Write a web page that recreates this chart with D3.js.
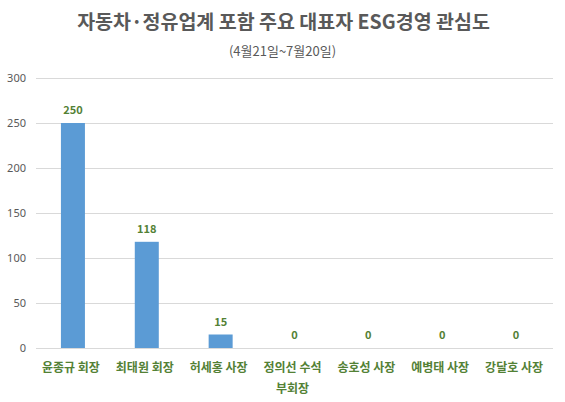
<!DOCTYPE html>
<html>
<head>
<meta charset="utf-8">
<script src="https://cdn.jsdelivr.net/npm/d3@7"></script>
<style>
  body { margin: 0; background: #fff; }
  text { font-family: "Noto Sans CJK KR", "Noto Sans", sans-serif; }
</style>
</head>
<body>
<svg id="bar_chart"></svg>
<script>
let names = ["윤종규 회장", "최태원 회장", "허세홍 사장", "정의선 수석 부회장", "송호성 사장", "예병태 사장", "강달호 사장"]
let labelLines = [["윤종규 회장"], ["최태원 회장"], ["허세홍 사장"], ["정의선 수석", "부회장"], ["송호성 사장"], ["예병태 사장"], ["강달호 사장"]]
let scores = [250, 118, 15, 0, 0, 0, 0]
let yTicks = [0, 50, 100, 150, 200, 250, 300]

let width = 565
let height = 402
let plot = {left: 36, right: 553, top: 78, bottom: 348}

let svg = d3.select("#bar_chart")
    .attr("width", width)
    .attr("height", height)

let xScale = d3.scaleBand()
    .domain(names)
    .range([plot.left, plot.right])
    .paddingInner(0.675)
    .paddingOuter(0.3375)

let yScale = d3.scaleLinear()
    .domain([0, 300])
    .range([plot.bottom, plot.top])

svg.append("text")
    .text("자동차·정유업계 포함 주요 대표자 ESG경영 관심도")
    .attr("x", width / 2 + 1)
    .attr("y", 29)
    .attr("text-anchor", "middle")
    .attr("font-size", 19.5)
    .attr("font-weight", "bold")
    .attr("fill", "#595959")

svg.append("text")
    .text("(4월21일~7월20일)")
    .attr("x", width / 2)
    .attr("y", 56)
    .attr("text-anchor", "middle")
    .attr("font-size", 13)
    .attr("fill", "#595959")

// grid lines
svg.append("g")
    .selectAll("line")
    .data(yTicks)
    .join("line")
    .attr("x1", plot.left)
    .attr("x2", plot.right)
    .attr("y1", d => yScale(d) + 0.5)
    .attr("y2", d => yScale(d) + 0.5)
    .attr("stroke", "#d9d9d9")
    .attr("stroke-width", 1)

let yAxis = svg.append("g")
    .attr("transform", "translate(" + 26 + ",0)")
    .call(d3.axisLeft(yScale).tickValues(yTicks).tickSize(0).tickPadding(0))
yAxis.select(".domain").remove()
yAxis.selectAll("text")
    .attr("font-size", 11)
    .attr("fill", "#595959")
    .style("font-family", "Noto Sans, sans-serif")

svg.append("g")
    .selectAll("rect")
    .data(scores)
    .join("rect")
    .attr("x", (d, i) => xScale(names[i]))
    .attr("y", d => yScale(d))
    .attr("width", xScale.bandwidth())
    .attr("height", d => plot.bottom - yScale(d))
    .attr("fill", "#5b9bd5")

svg.append("g")
    .selectAll("text")
    .data(scores)
    .join("text")
    .text(d => d)
    .attr("x", (d, i) => xScale(names[i]) + xScale.bandwidth() / 2)
    .attr("y", d => yScale(d) - 9)
    .attr("text-anchor", "middle")
    .attr("font-size", 11)
    .attr("font-weight", "bold")
    .attr("fill", "#538135")

let xLabels = svg.append("g")
    .selectAll("text")
    .data(labelLines)
    .join("text")
    .attr("x", (d, i) => xScale(names[i]) + xScale.bandwidth() / 2 - 2)
    .attr("y", 372)
    .attr("text-anchor", "middle")
    .attr("font-size", 12)
    .attr("font-weight", "bold")
    .attr("fill", "#538135")

xLabels.selectAll("tspan")
    .data(d => d)
    .join("tspan")
    .attr("x", function() { return d3.select(this.parentNode).attr("x") })
    .attr("dy", (d, i) => i === 0 ? 0 : 21)
    .text(d => d)
</script>
</body>
</html>
